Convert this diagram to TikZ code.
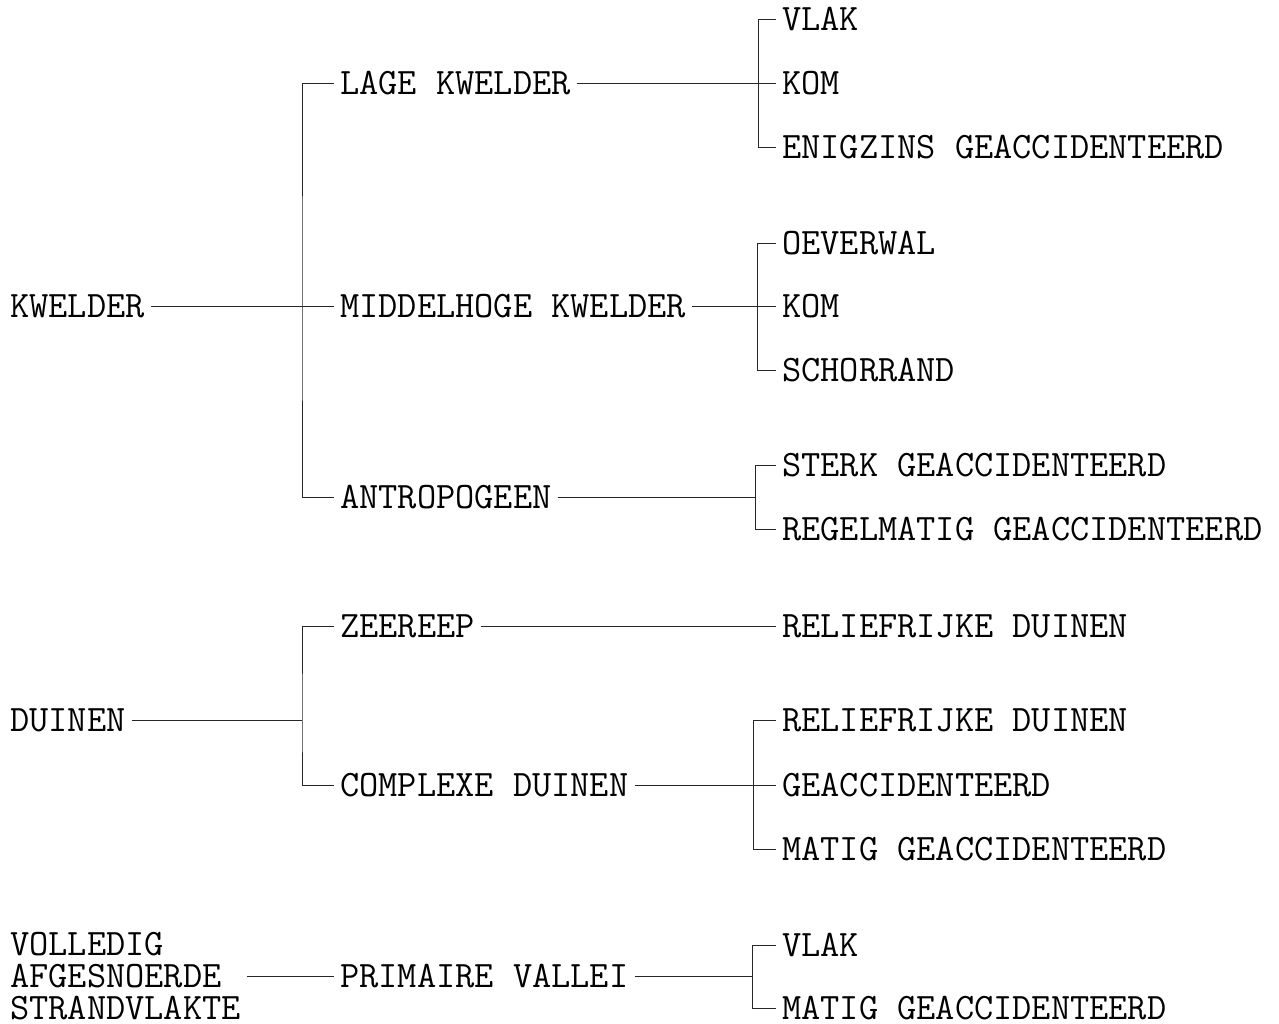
\documentclass[tikz,border=0pt]{standalone}
\usepackage{tikz}
\usetikzlibrary{positioning}
\tikzstyle{lbl} = [anchor=west, inner xsep=6pt, inner ysep=0pt, font=\fontsize{37.3}{32}\selectfont\ttfamily]
\tikzstyle{term} = [lbl, text height=22.6pt, text depth=0pt]
\tikzstyle{link} = [line width=1pt, black!85]

\begin{document}
\begin{tikzpicture}[x=1pt, y=-1pt]
  \useasboundingbox (0,0) rectangle (1279,1023);

  \node[term] (kw) at (4,306) {KWELDER};
  \node[term] (du) at (4,720) {DUINEN};
  \node[lbl, align=left] (vo) at (4,976) {VOLLEDIG\\AFGESNOERDE\\STRANDVLAKTE};

  \node[term] (lk) at (334,83) {LAGE KWELDER};
  \node[term] (mk) at (334,306) {MIDDELHOGE KWELDER};
  \node[term] (an) at (334,497) {ANTROPOGEEN};
  \node[term] (ze) at (334,626) {ZEEREEP};
  \node[term] (cd) at (334,785) {COMPLEXE DUINEN};
  \node[term] (pv) at (334,976) {PRIMAIRE VALLEI};

  \node[term] (v1) at (776,19) {VLAK};
  \node[term] (k1) at (776,83) {KOM};
  \node[term] (e1) at (776,147) {ENIGZINS GEACCIDENTEERD};
  \node[term] (o2) at (776,243) {OEVERWAL};
  \node[term] (k2) at (776,306) {KOM};
  \node[term] (s2) at (776,370) {SCHORRAND};
  \node[term] (st) at (776,465) {STERK GEACCIDENTEERD};
  \node[term] (re) at (776,529) {REGELMATIG GEACCIDENTEERD};
  \node[term] (rd1) at (776,626) {RELIEFRIJKE DUINEN};
  \node[term] (rd2) at (776,720) {RELIEFRIJKE DUINEN};
  \node[term] (ge) at (776,785) {GEACCIDENTEERD};
  \node[term] (mg1) at (776,849) {MATIG GEACCIDENTEERD};
  \node[term] (v2) at (776,945) {VLAK};
  \node[term] (mg2) at (776,1008) {MATIG GEACCIDENTEERD};

  \coordinate (jk) at (302,306);
  \coordinate (jd) at (302,720);
  \coordinate (jl) at (758,83);
  \coordinate (jm) at (757,306);
  \coordinate (ja) at (755,497);
  \coordinate (jc) at (753,785);
  \coordinate (jp) at (752,976);

  \draw[link] (kw) -- (mk);
  \draw[link] (lk.west) -| (jk) |- (an.west);
  \draw[link] (lk) -- (k1);
  \draw[link] (v1.west) -| (jl) |- (e1.west);
  \draw[link] (mk) -- (k2);
  \draw[link] (o2.west) -| (jm) |- (s2.west);
  \draw[link] (an) -- (ja);
  \draw[link] (st.west) -| (ja) |- (re.west);

  \draw[link] (du) -- (jd);
  \draw[link] (ze.west) -| (jd) |- (cd.west);
  \draw[link] (ze) -- (rd1);
  \draw[link] (cd) -- (ge);
  \draw[link] (rd2.west) -| (jc) |- (mg1.west);

  \draw[link] (vo) -- (pv);
  \draw[link] (pv) -- (jp);
  \draw[link] (v2.west) -| (jp) |- (mg2.west);
\end{tikzpicture}
\end{document}
